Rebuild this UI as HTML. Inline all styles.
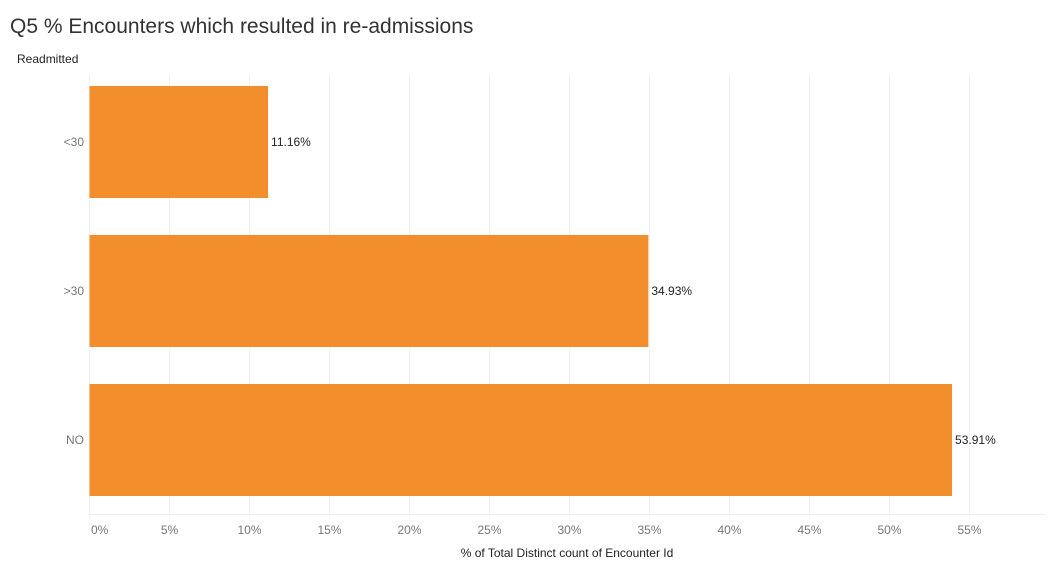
<!DOCTYPE html>
<html><head><meta charset="utf-8"><style>
body{margin:0;background:#fff;font-family:"Liberation Sans",sans-serif;}
svg text{font-family:"Liberation Sans",sans-serif;}
</style></head><body>
<svg width="1053" height="568">
<text x="10" y="33" font-size="21" fill="#333" font-weight="300">Q5 % Encounters which resulted in re-admissions</text>
<text x="17" y="63" font-size="12" fill="#222">Readmitted</text>
<g id="grid"></g><g id="bars"></g><g id="ticks"></g>
<line x1="89.5" y1="514.5" x2="1045" y2="514.5" stroke="#eee"/>
<text x="567" y="557" font-size="12" fill="#222" text-anchor="middle">% of Total Distinct count of Encounter Id</text>
</svg>
<script>
const categories=["<30",">30","NO"];
const values=[11.16,34.93,53.91];
const valueLabels=["11.16%","34.93%","53.91%"];
const tickValues=[0,5,10,15,20,25,30,35,40,45,50,55];
const ns="http://www.w3.org/2000/svg";
const x=v=>89.5+v*16;
const bandTop=i=>86+i*149;
function mk(t,a,p){const e=document.createElementNS(ns,t);for(const k in a)e.setAttribute(k,a[k]);p.appendChild(e);return e;}
const grid=document.getElementById('grid'),bars=document.getElementById('bars'),ticks=document.getElementById('ticks');
tickValues.forEach(v=>{
 const l=mk('line',{x1:x(v),x2:x(v),y1:75,y2:518,stroke:'#f0f0f0'},grid);
 
 
 const t=mk('text',{x:v===0?91:x(v),y:534,'font-size':12,fill:'#777','text-anchor':v===0?'start':'middle'},ticks);
 t.textContent=v+'%';
 
 
});
categories.forEach((c,i)=>{
 const y=bandTop(i);
 const r=mk('rect',{x:x(0),y:y,width:x(values[i])-x(0),height:112,fill:'#f28e2b'},bars);
 
 
 const lb=mk('text',{x:x(values[i])+3,y:y+60,'font-size':12,fill:'#222'},bars);
 lb.textContent=valueLabels[i];
 
 
 const cl=mk('text',{x:84,y:y+60,'font-size':12,fill:'#777','text-anchor':'end'},bars);
 cl.textContent=c;
 
 
});
</script>
</body></html>
